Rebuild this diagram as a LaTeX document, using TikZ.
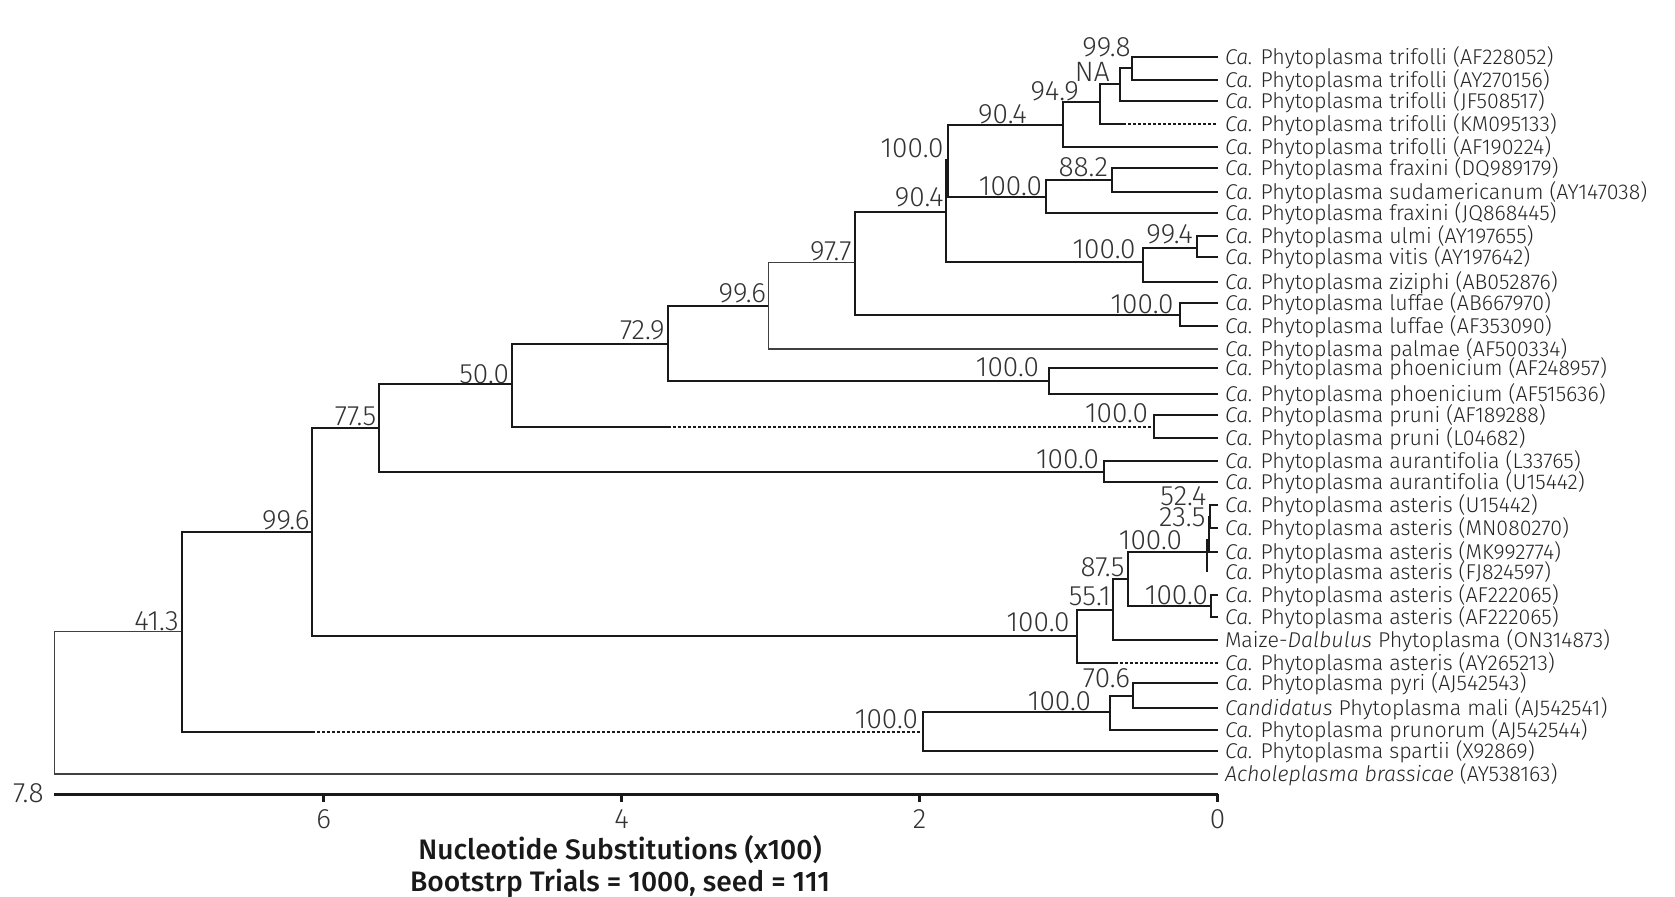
\documentclass[tikz,border=0pt]{standalone}
\usepackage{fontspec}
\setmainfont{Fira Sans Light}[ItalicFont={Fira Sans Light Italic},BoldFont={Fira Sans Medium}]
\newcommand{\Ca}{\textit{Ca.}}

\begin{document}
\begin{tikzpicture}[x=0.5pt,y=-0.5pt,
branch/.style={line width=1pt, draw=black!90},
thinbranch/.style={line width=0.55pt, draw=black!75},
gapbranch/.style={line width=0.9pt, draw=black!90, dash pattern=on 1.5pt off 1pt},
axisline/.style={line width=1.2pt, draw=black!90},
leaf/.style={anchor=west, inner xsep=3.5pt, inner ysep=0pt, text height=7.4pt, text depth=0pt,
    font=\fontsize{10.7}{12}\selectfont, text=black!85},
boot/.style={anchor=base east, inner sep=0pt, font=\fontsize{14}{15}\selectfont, text=black!80},
ticklab/.style={inner sep=0pt, text depth=0pt, font=\fontsize{14}{15}\selectfont, text=black!80},
title/.style={anchor=base, inner sep=0pt, font=\fontsize{14.1}{15}\selectfont\bfseries, text=black!90}]
\useasboundingbox (0,0) rectangle (1675,897);
\fill[white] (0,0) rectangle (1675,897);

\foreach \n/\y/\t in {
1/56.7/{\Ca{} Phytoplasma trifolli (AF228052)},
2/80/{\Ca{} Phytoplasma trifolli (AY270156)},
3/101/{\Ca{} Phytoplasma trifolli (JF508517)},
4/124.3/{\Ca{} Phytoplasma trifolli (KM095133)},
5/146.7/{\Ca{} Phytoplasma trifolli (AF190224)},
6/167.7/{\Ca{} Phytoplasma fraxini (DQ989179)},
7/191.7/{\Ca{} Phytoplasma sudamericanum (AY147038)},
8/213.3/{\Ca{} Phytoplasma fraxini (JQ868445)},
9/236/{\Ca{} Phytoplasma ulmi (AY197655)},
10/257.5/{\Ca{} Phytoplasma vitis (AY197642)},
11/282.3/{\Ca{} Phytoplasma ziziphi (AB052876)},
12/303.3/{\Ca{} Phytoplasma luffae (AB667970)},
13/326/{\Ca{} Phytoplasma luffae (AF353090)},
14/349/{\Ca{} Phytoplasma palmae (AF500334)},
15/368.3/{\Ca{} Phytoplasma phoenicium (AF248957)},
16/394/{\Ca{} Phytoplasma phoenicium (AF515636)},
17/415/{\Ca{} Phytoplasma pruni (AF189288)},
18/437.7/{\Ca{} Phytoplasma pruni (L04682)},
19/460.7/{\Ca{} Phytoplasma aurantifolia (L33765)},
20/482.3/{\Ca{} Phytoplasma aurantifolia (U15442)},
21/505/{\Ca{} Phytoplasma asteris (U15442)},
22/528.3/{\Ca{} Phytoplasma asteris (MN080270)},
23/551.7/{\Ca{} Phytoplasma asteris (MK992774)},
24/571.7/{\Ca{} Phytoplasma asteris (FJ824597)},
25/595/{\Ca{} Phytoplasma asteris (AF222065)},
26/616.7/{\Ca{} Phytoplasma asteris (AF222065)},
27/640/{Maize-\textit{Dalbulus} Phytoplasma (ON314873)},
28/662.7/{\Ca{} Phytoplasma asteris (AY265213)},
29/683.3/{\Ca{} Phytoplasma pyri (AJ542543)},
30/707.7/{\textit{Candidatus} Phytoplasma mali (AJ542541)},
31/730/{\Ca{} Phytoplasma prunorum (AJ542544)},
32/751/{\Ca{} Phytoplasma spartii (X92869)},
33/774/{\textit{Acholeplasma brassicae} (AY538163)}}{
  \coordinate (t\n) at (1217.6,\y);
  \node[leaf] (l\n) at (t\n) {\t};
}

\coordinate (root) at (54.4,703);
\coordinate (ingroup) at (182,631.7);
\coordinate (main) at (311.7,531.7);
\coordinate (spart) at (922.8,732);
\coordinate (spgap) at (311.7,732);
\coordinate (upper) at (379.3,427.7);
\coordinate (aster) at (1076.7,636);
\coordinate (mid) at (511.7,384.3);
\coordinate (auran) at (1104.4,471.7);
\coordinate (top) at (667.7,344);
\coordinate (pruni) at (1153.8,426.7);
\coordinate (prgap) at (667.7,426.7);
\coordinate (top2) at (768.4,306);
\coordinate (phoen) at (1048.5,381);
\coordinate (top3) at (854.5,262.7);
\coordinate (luff) at (1179.8,315);
\coordinate (top4) at (946,211.7);
\coordinate (ulmi) at (1142.7,262.3);
\coordinate (ulvi) at (1196.7,248.3);
\coordinate (trfx) at (948.3,160);
\coordinate (trif) at (1062.7,125);
\coordinate (fraxgrp) at (1046,196.7);
\coordinate (frax) at (1112.3,180);
\coordinate (trif2) at (1100,102.3);
\coordinate (kmgap) at (1123.3,124.3);
\coordinate (trif3) at (1120,84.3);
\coordinate (trif4) at (1131.7,67.7);
\coordinate (astA) at (1113.3,610);
\coordinate (aygap) at (1115,662.7);
\coordinate (astB) at (1127.7,579.3);
\coordinate (astC) at (1206.7,551.7);
\coordinate (astD) at (1210.7,606);
\coordinate (astF) at (1208.5,540);
\coordinate (astE) at (1210,516.7);
\coordinate (mali) at (1109.7,711.7);
\coordinate (pyri) at (1133.2,695.7);

\draw[thinbranch] (root) |- (ingroup) (root) |- (t33);
\draw[branch] (ingroup) |- (main) (ingroup) |- (spgap);
\draw[gapbranch] (spgap) -- (spart);
\draw[branch] (main) |- (upper) (main) |- (aster);
\draw[branch] (upper) |- (mid) (upper) |- (auran);
\draw[branch] (mid) |- (top) (mid) |- (prgap);
\draw[gapbranch] (prgap) -- (pruni);
\draw[branch] (top) |- (top2) (top) |- (phoen);
\draw[thinbranch] (top2) |- (top3) (top2) |- (t14);
\draw[branch] (top3) |- (top4) (top3) |- (luff);
\draw[branch] (top4) |- (trfx) (top4) |- (ulmi);
\draw[branch] (trfx) |- (trif) (trfx) |- (fraxgrp);
\draw[branch] (trif) |- (trif2) (trif) |- (t5);
\draw[branch] (trif2) |- (trif3) (trif2) |- (kmgap);
\draw[gapbranch] (kmgap) -- (t4);
\draw[branch] (trif3) |- (trif4) (trif3) |- (t3);
\draw[branch] (trif4) |- (t1) (trif4) |- (t2);
\draw[branch] (fraxgrp) |- (frax) (fraxgrp) |- (t8);
\draw[branch] (frax) |- (t6) (frax) |- (t7);
\draw[branch] (ulmi) |- (ulvi) (ulmi) |- (t11);
\draw[branch] (ulvi) |- (t9) (ulvi) |- (t10);
\draw[branch] (luff) |- (t12) (luff) |- (t13);
\draw[branch] (phoen) |- (t15) (phoen) |- (t16);
\draw[branch] (pruni) |- (t17) (pruni) |- (t18);
\draw[branch] (auran) |- (t19) (auran) |- (t20);
\draw[branch] (aster) |- (astA) (aster) |- (aygap);
\draw[gapbranch] (aygap) -- (t28);
\draw[branch] (astA) |- (astB) (astA) |- (t27);
\draw[branch] (astB) |- (astC) (astB) |- (astD);
\draw[branch] (astD) |- (t25) (astD) |- (t26);
\draw[branch] (astC) |- (astF) (astC) -- (astC |- t24);
\draw[branch] (astF) |- (astE) (astF) |- (t23);
\draw[branch] (astE) |- (t21) (astE) |- (t22);
\draw[branch] (spart) |- (mali) (spart) |- (t32);
\draw[branch] (mali) |- (pyri) (mali) |- (t31);
\draw[branch] (pyri) |- (t29) (pyri) |- (t30);

\foreach \xx/\yy/\v [count=\c] in {1131/56.7/99.8, 1110/81.7/NA, 1079.3/101/94.9, 1027.3/123.3/90.4,
  944/157.7/100.0, 1108.3/176.7/88.2, 1042.3/195.7/100.0, 944/206.7/90.4, 1193.3/243.3/99.4,
  1136/258.3/100.0, 852/260.5/97.7, 766.5/302.7/99.6, 1174/313.3/100.0, 665/340/72.9,
  1039.3/376.7/100.0, 509.3/383.3/50.0, 1148.4/422.3/100.0, 376.7/426/77.5, 1099.4/468.3/100.0,
  1206.7/506/52.4, 1206/526.7/23.5, 310/530/99.6, 1182.3/550/100.0, 1125/576.7/87.5,
  1208.3/604/100.0, 1111/605/55.1, 179.1/630/41.3, 1070/631.7/100.0, 1130.4/687.3/70.6,
  1091.3/710/100.0, 918.3/728.3/100.0}
  \node[boot] (bs\c) at (\xx,\yy) {\v};

\coordinate (ax0) at (1217.6,794.3);
\coordinate (axend) at (54.4,794.3);
\draw[axisline] (axend) -- (ax0);
\foreach \t in {0,2,4,6}{
  \coordinate (tk\t) at (1217.6-149*\t,794.3);
  \draw[axisline] (tk\t) -- ++(0,7.5);
  \node[ticklab] (tl\t) at (1217.6-149*\t,819) {\t};
}
\node[ticklab, anchor=east] (tl78) at (44,793.3) {7.8};
\node[title] (ttl1) at (620,859.5) {Nucleotide Substitutions (x100)};
\node[title] (ttl2) at (620,891.5) {Bootstrp Trials = 1000, seed = 111};
\end{tikzpicture}
\end{document}
